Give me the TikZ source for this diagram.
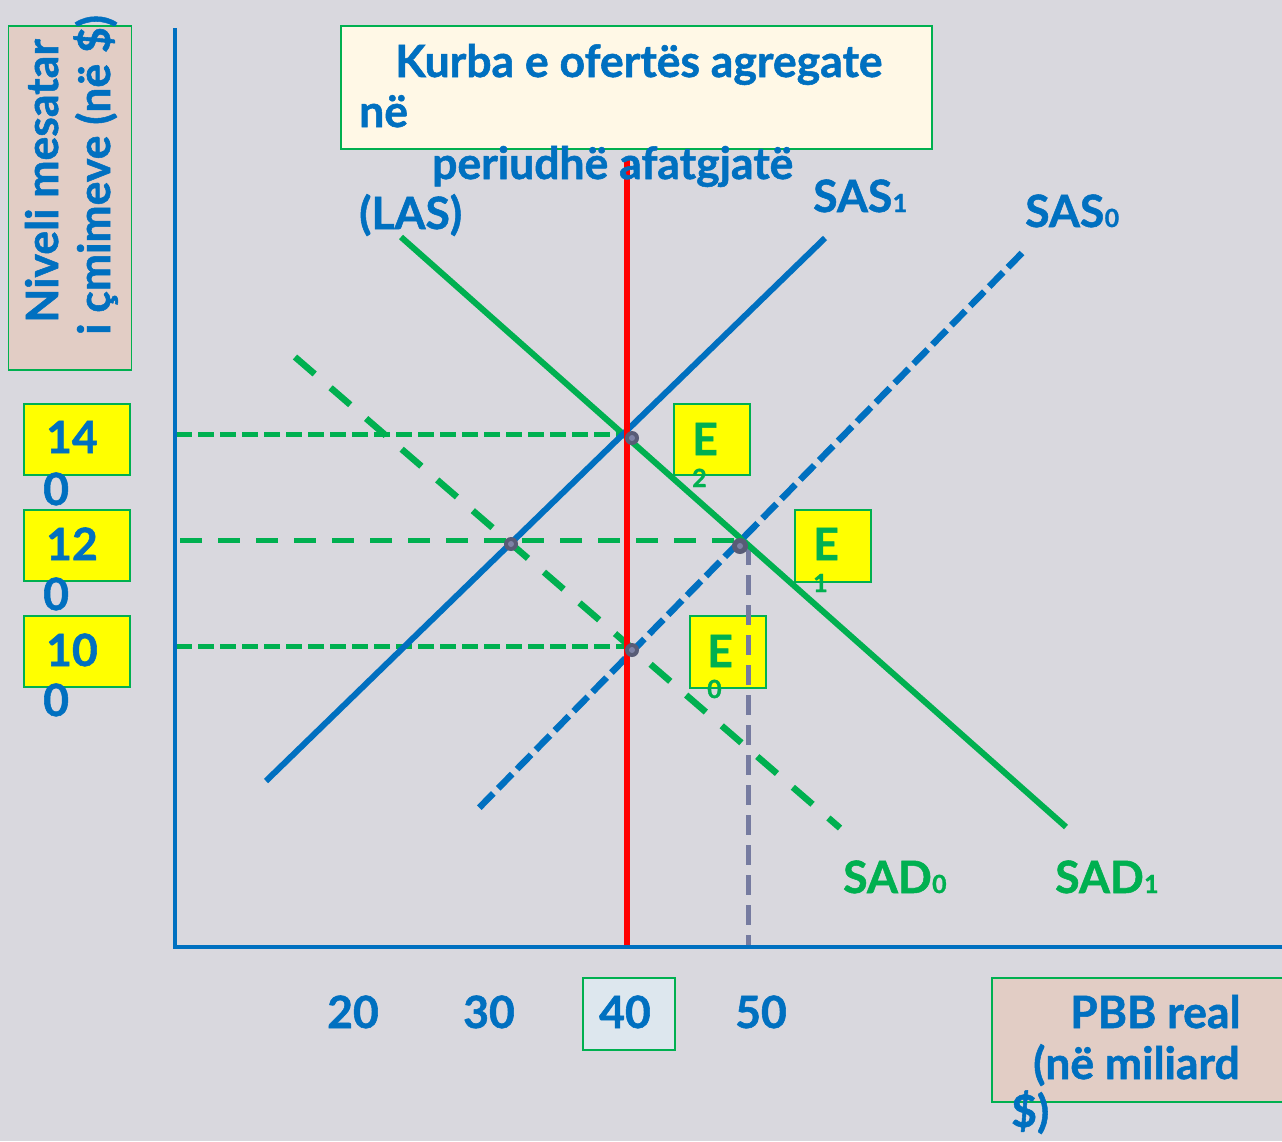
\documentclass[tikz,border=0pt]{standalone}
\usepackage{fontspec}
\setmainfont{Lato}[BoldFeatures={FakeBold=1.2}]
\definecolor{bg}{RGB}{217,216,222}
\definecolor{myblue}{RGB}{0,112,192}
\definecolor{mygreen}{RGB}{0,176,80}
\definecolor{myred}{RGB}{255,0,0}
\definecolor{myyellow}{RGB}{255,255,0}
\definecolor{pinkbox}{RGB}{226,205,197}
\definecolor{creambox}{RGB}{255,248,230}
\definecolor{bluebox}{RGB}{221,231,238}
\definecolor{grayline}{RGB}{118,123,160}
\definecolor{dotout}{RGB}{88,92,118}
\definecolor{dotin}{RGB}{125,130,165}
\tikzset{
  bigtxt/.style={font=\fontsize{44.5}{49}\selectfont\bfseries, inner sep=0, anchor=base west},
  subtxt/.style={font=\fontsize{25}{28}\selectfont\bfseries, inner sep=0, anchor=base west},
  boxstyle/.style={draw=mygreen, line width=1.5pt, inner sep=0, anchor=north west},
  axisline/.style={draw=myblue, line width=4.5pt},
  gdash/.style={draw=mygreen, line width=5pt, dash pattern=on 16pt off 6pt},
  gdashlong/.style={draw=mygreen, line width=5pt, dash pattern=on 22pt off 16pt},
  eqpoint/.style={circle, fill=dotout, inner sep=0, minimum size=14pt},
}
\begin{document}
\begin{tikzpicture}[x=1pt,y=-1pt]
\useasboundingbox (0,0) rectangle (1282,1141);
\fill[bg] (0,0) rectangle (1282,1141);

% boxes
\node[boxstyle, fill=pinkbox, minimum width=123pt, minimum height=344pt] (ybox) at (7.5,25) {};
\node[boxstyle, fill=creambox, minimum width=591pt, minimum height=123pt] (titlebox) at (340,25) {};
\node[boxstyle, fill=myyellow, minimum width=106pt, minimum height=71pt] (b140) at (23,403) {};
\node[boxstyle, fill=myyellow, minimum width=106pt, minimum height=71pt] (b120) at (23,509) {};
\node[boxstyle, fill=myyellow, minimum width=106pt, minimum height=71pt] (b100) at (23,615) {};
\node[boxstyle, fill=myyellow, minimum width=76pt, minimum height=71pt] (be2) at (673,403) {};
\node[boxstyle, fill=myyellow, minimum width=76pt, minimum height=72pt] (be1) at (794,509) {};
\node[boxstyle, fill=myyellow, minimum width=76pt, minimum height=72pt] (be0) at (689,615) {};
\node[boxstyle, fill=bluebox, minimum width=92pt, minimum height=72pt] (b40) at (582,977) {};
\node[boxstyle, fill=pinkbox, minimum width=300pt, minimum height=124pt] (pbbbox) at (991,977) {};

% coordinates
\coordinate (ytop) at (175,28);
\coordinate (origin) at (175,947);
\coordinate (xend) at (1282,947);
\coordinate (lastop) at (627,160);
\coordinate (lasbot) at (627,947);
\coordinate (gtop) at (748,545);
\coordinate (gbot) at (748,947);
\coordinate (h140a) at (176,434);
\coordinate (h140b) at (622,434);
\coordinate (h120a) at (180,540);
\coordinate (h120b) at (740,540);
\coordinate (h100a) at (176,646);
\coordinate (h100b) at (627,646);
\coordinate (sas1a) at (266,781);
\coordinate (sas1b) at (825,238);
\coordinate (sas0a) at (477,810);
\coordinate (sas0b) at (1022,253);
\coordinate (sad1a) at (401,237);
\coordinate (sad1b) at (1066,827);
\coordinate (sad0a) at (295,357);
\coordinate (sad0b) at (840,828);

% guide lines
\draw[gdash] (h140a) -- (h140b);
\draw[gdashlong] (h120a) -- (h120b);
\draw[gdash] (h100a) -- (h100b);
\draw[draw=grayline, line width=5pt, dash pattern=on 20pt off 10pt] (gtop) -- (gbot);

% curves
\draw[draw=mygreen, line width=6pt] (sad1a) -- (sad1b);
\draw[draw=mygreen, line width=6.5pt, dash pattern=on 26pt off 21pt] (sad0a) -- (sad0b);
\draw[draw=myblue, line width=6pt] (sas1a) -- (sas1b);
\draw[draw=myblue, line width=6.5pt, dash pattern=on 20pt off 7pt] (sas0b) -- (sas0a);
\draw[draw=myred, line width=6pt] (lastop) -- (lasbot);

% axes
\draw[axisline] (ytop) -- (origin) -- (xend);

% points
\node[eqpoint] (e2) at (632,438) {};
\node[eqpoint, minimum size=16pt] (e1) at (740,546) {};
\node[eqpoint] (e0) at (632,650) {};
\node[eqpoint] (p4) at (511,544) {};
\foreach \p in {e2,e1,e0,p4} \fill[dotin] (\p) circle (3pt);

% y-axis label
\node[bigtxt, text=myblue, rotate=90] (ylab1) at (58,323) {Niveli mesatar};
\node[bigtxt, text=myblue, rotate=90] (ylab2) at (110,335) {i çmimeve (në \$)};

% title
\node[bigtxt, text=myblue] (tl1) at (395,77) {Kurba e ofertës agregate};
\node[bigtxt, text=myblue] (tl2) at (359,127) {në};
\node[bigtxt, text=myblue] (tl3) at (432,179) {periudhë afatgjatë};
\node[bigtxt, text=myblue] (tl4) at (359,229) {(LAS)};

% value labels
\node[bigtxt, text=myblue] (v140a) at (46,453) {14};
\node[bigtxt, text=myblue] (v140b) at (43,505) {0};
\node[bigtxt, text=myblue] (v120a) at (46,560) {12};
\node[bigtxt, text=myblue] (v120b) at (43,610) {0};
\node[bigtxt, text=myblue] (v100a) at (46,666) {10};
\node[bigtxt, text=myblue] (v100b) at (43,716) {0};

% E labels
\node[bigtxt, text=mygreen] (le2) at (692,455) {E};
\node[subtxt, text=mygreen] (le2s) at (692,487) {2};
\node[bigtxt, text=mygreen] (le1) at (813,560) {E};
\node[subtxt, text=mygreen] (le1s) at (813,592) {1};
\node[bigtxt, text=mygreen] (le0) at (707,667) {E};
\node[subtxt, text=mygreen] (le0s) at (707,698) {0};

% curve labels
\node[bigtxt, text=myblue] (lsas1) at (813,212) {SAS};
\node[subtxt, text=myblue, anchor=base west] (lsas1s) at (lsas1.base east) {1};
\node[bigtxt, text=myblue] (lsas0) at (1025,227) {SAS};
\node[subtxt, text=myblue, anchor=base west] (lsas0s) at (lsas0.base east) {0};
\node[bigtxt, text=mygreen] (lsad0) at (843,893) {SAD};
\node[subtxt, text=mygreen, anchor=base west] (lsad0s) at (lsad0.base east) {0};
\node[bigtxt, text=mygreen] (lsad1) at (1055,893) {SAD};
\node[subtxt, text=mygreen, anchor=base west] (lsad1s) at (lsad1.base east) {1};

% x-axis numbers
\node[bigtxt, text=myblue, anchor=base] (x20) at (353,1028) {20};
\node[bigtxt, text=myblue, anchor=base] (x30) at (489,1028) {30};
\node[bigtxt, text=myblue, anchor=base] (x40) at (625,1028) {40};
\node[bigtxt, text=myblue, anchor=base] (x50) at (761,1028) {50};

% x-axis label
\node[bigtxt, text=myblue] (xl1) at (1070,1028) {PBB real};
\node[bigtxt, text=myblue] (xl2) at (1033,1079) {(në miliard};
\node[bigtxt, text=myblue] (xl3) at (1011,1127) {\$)};
\end{tikzpicture}
\end{document}
